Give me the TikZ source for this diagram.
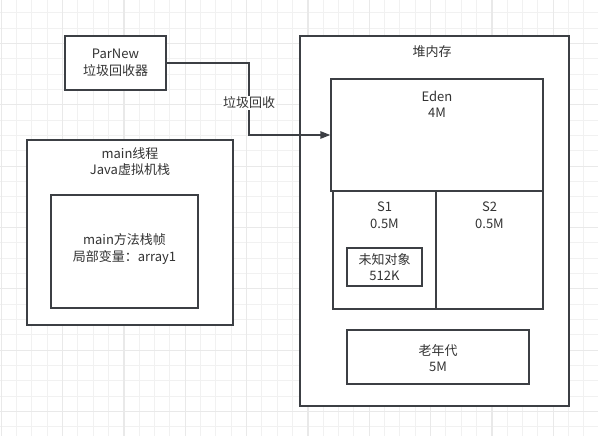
\documentclass[tikz,border=0pt]{standalone}
\usepackage{fontspec}
\setmainfont{Noto Sans CJK SC}
\usetikzlibrary{arrows.meta}
\definecolor{linec}{HTML}{3C3F44}
\definecolor{textc}{HTML}{333333}
\definecolor{gridminor}{HTML}{F1F1F1}
\definecolor{gridmajor}{HTML}{E9E9E9}
\tikzset{
  box/.style={draw=linec, line width=1.4pt, fill=white, inner sep=0pt},
  txt/.style={text=textc, font=\fontsize{13}{16.5}\selectfont, align=center, inner sep=0pt},
  conn/.style={draw=linec, line width=1.4pt, -{Triangle[length=10pt,width=7.5pt]}},
  lbl/.style={txt, fill=white, inner sep=1pt}
}
\begin{document}
\begin{tikzpicture}[x=1pt,y=-1pt]
\useasboundingbox (0,0) rectangle (598,436);
\fill[white] (0,0) rectangle (598,436);
% grid
\foreach \k in {0,...,39} {
  \draw[gridminor, line width=1pt] ({1.3+15.333*\k},0) -- ({1.3+15.333*\k},436);
}
\foreach \k in {0,...,28} {
  \draw[gridminor, line width=1pt] (0,{12.84+15.333*\k}) -- (598,{12.84+15.333*\k});
}
\foreach \k in {0,...,9} {
  \draw[gridmajor, line width=1.3pt] ({1.3+61.333*\k},0) -- ({1.3+61.333*\k},436);
}
\foreach \k in {0,...,6} {
  \draw[gridmajor, line width=1.3pt] (0,{43.5+61.333*\k}) -- (598,{43.5+61.333*\k});
}
% ParNew
\node[box, minimum width=101pt, minimum height=54pt] (parnew) at (115.5,63) {};
\node[txt] (parnewt) at (parnew.center) {ParNew\\垃圾回收器};
% main thread
\node[box, minimum width=206pt, minimum height=185pt] (mainth) at (130,232.5) {};
\node[txt] (maintht) at (130,161.5) {main线程\\Java虚拟机栈};
\node[box, minimum width=147pt, minimum height=113pt] (frame) at (124.5,251.5) {};
\node[txt] (framet) at (124.5,249) {main方法栈帧\\局部变量：array1};
% heap
\node[box, minimum width=269pt, minimum height=370pt] (heap) at (434.5,221) {};
\node[txt] (heapt) at (432,52) {堆内存};
\node[box, minimum width=212pt, minimum height=112pt] (eden) at (437,135) {};
\node[txt] (edent) at (437,104.5) {Eden\\4M};
\node[box, minimum width=103pt, minimum height=118pt] (s1) at (384.5,250) {};
\node[txt] (s1t) at (384.5,215) {S1\\0.5M};
\node[box, minimum width=107pt, minimum height=118pt] (s2) at (489.5,250) {};
\node[txt] (s2t) at (489.5,215) {S2\\0.5M};
\node[box, minimum width=75pt, minimum height=38pt] (obj) at (384.5,267) {};
\node[txt] (objt) at (obj.center) {未知对象\\512K};
\node[box, minimum width=182pt, minimum height=54pt] (old) at (438,357) {};
\node[txt] (oldt) at (438,358) {老年代\\5M};
% connector
\coordinate (bend) at (249,103);
\draw[conn] (parnew.east) -| (bend) |- (eden.west);
\node[lbl] (gclbl) at (bend) {垃圾回收};
\end{tikzpicture}
\end{document}
